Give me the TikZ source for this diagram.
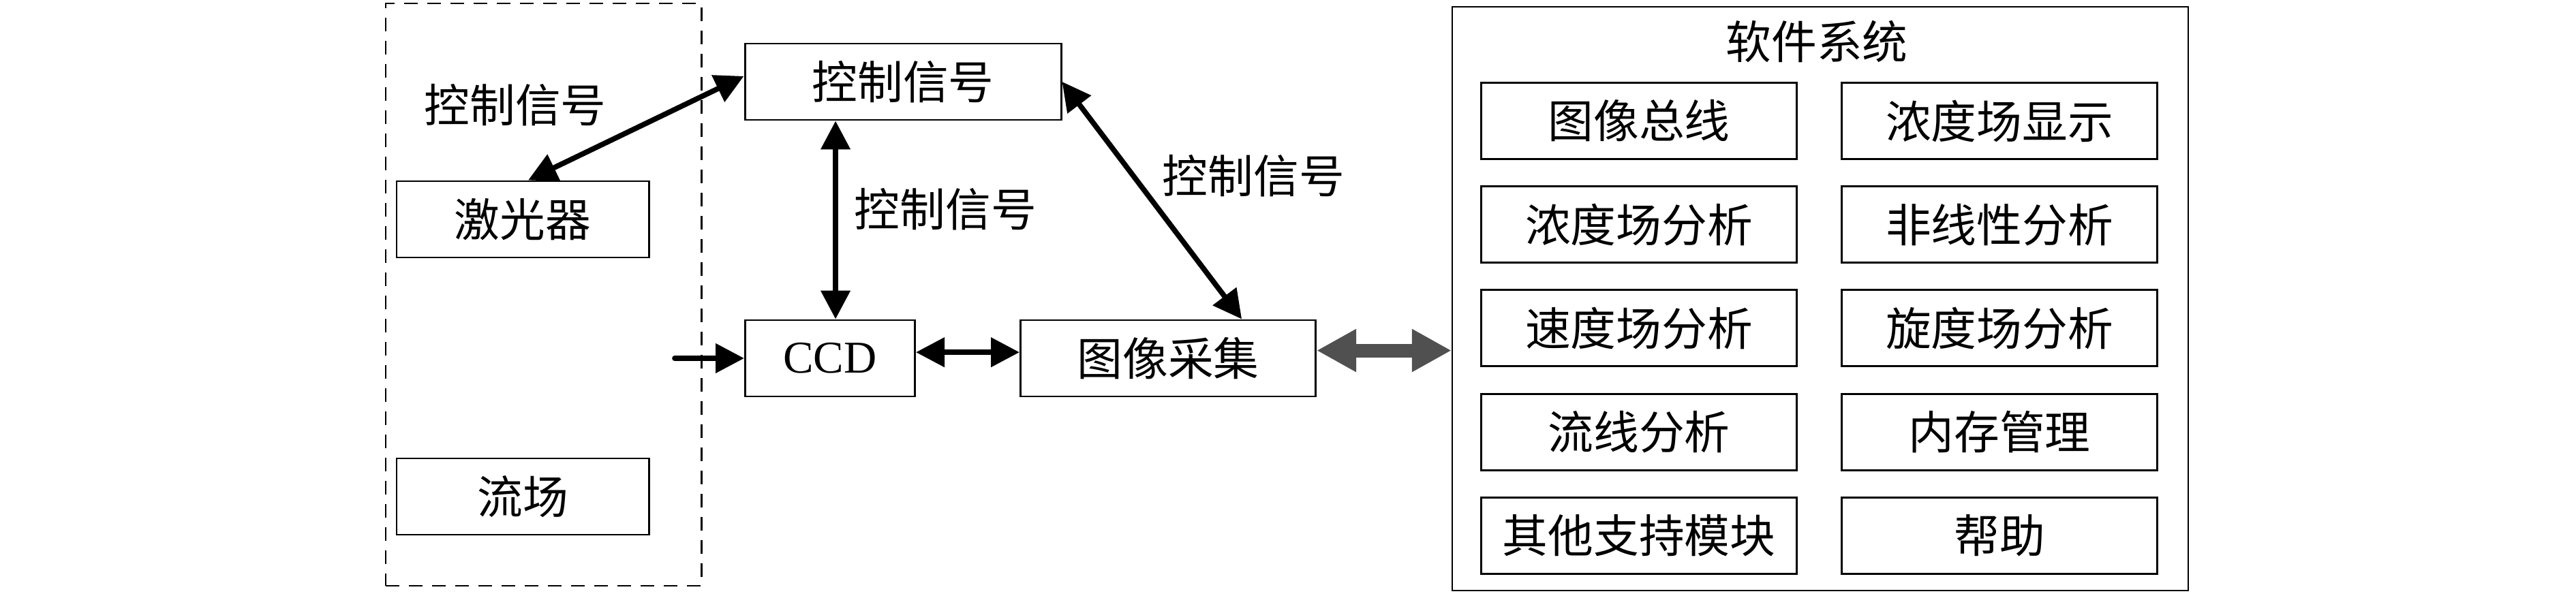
\documentclass[tikz,border=0pt]{standalone}
\usepackage{fontspec}
\setmainfont{Liberation Serif}
\newfontfamily\cjk{Noto Sans CJK SC}
\usetikzlibrary{arrows.meta, positioning}
\definecolor{busgray}{RGB}{80,80,80}
\tikzset{every node/.style={font=\cjk\fontsize{19}{23}\selectfont},
         module/.style={draw,line width=0.85pt,minimum width=4.63cm,minimum height=1.12cm},
         frame/.style={draw,line width=0.85pt,dash pattern=on 0.2cm off 0.14cm},
         signal/.style={line width=2.2pt},
         bus/.style={line width=2mm,draw=busgray,{Triangle[length=5.8mm,width=5.9mm]}-{Triangle[length=5.8mm,width=5.9mm]}}}

\begin{document}
\begin{tikzpicture}[>={Triangle[length=4.2mm,width=4.2mm]}]
        \useasboundingbox(0,0)rectangle(37.8,8.74);

        \node[frame, minimum width=4.63cm, minimum height=8.55cm](bench)at(7.975,4.415){};
        \node[module, minimum width=3.7cm](laser)at(7.67,5.52){激光器};
        \node[module, minimum width=3.7cm](flow)at(7.67,1.45){流场};
        \node[module, minimum width=4.64cm](ctrl)at(13.25,7.54){控制信号};
        \node[module, minimum width=2.49cm, font=\fontsize{19}{23}\selectfont\rmfamily](ccd)at(12.18,3.48){CCD};
        \node[module, minimum width=4.33cm](grab)at(17.14,3.48){图像采集};

        \draw[<->,signal](laser.82)--(ctrl.178)node[midway, above left, xshift=-2.8mm, yshift=-1.2mm](lctrl){控制信号};
        \draw[<->,signal](ccd.82)--(ccd.82 |- ctrl.south)node[midway, right, xshift=1.2mm, yshift=1.6mm](vctrl){控制信号};
        \draw[<->,signal](ctrl.east)--(grab.28)node[midway, above right, yshift=-1mm](rctrl){控制信号};
        \draw[<->,signal](ccd.4)--(ccd.4 -| grab.west);
        \coordinate[left=1.02cm of ccd.west](inlet);
        \draw[->,signal,line cap=round](inlet)--(ccd.west);

        % software system
        \node[draw, line width=0.6pt, minimum width=10.8cm, minimum height=8.57cm](sw)at(26.71,4.355){};
        \node(swtitle)at(26.66,8.13){软件系统};
        \node[module](bus)at(24.05,6.965){图像总线};
        \node[module](cshow)at(29.34,6.965){浓度场显示};
        \node[module](canal)at(24.05,5.443){浓度场分析};
        \node[module](nonlin)at(29.34,5.443){非线性分析};
        \node[module](vanal)at(24.05,3.921){速度场分析};
        \node[module](wanal)at(29.34,3.921){旋度场分析};
        \node[module](sline)at(24.05,2.399){流线分析};
        \node[module](mem)at(29.34,2.399){内存管理};
        \node[module](other)at(24.05,0.877){其他支持模块};
        \node[module](help)at(29.34,0.877){帮助};

        \draw[bus](grab.3)--(grab.3 -| sw.west);
    \end{tikzpicture}
\end{document}
